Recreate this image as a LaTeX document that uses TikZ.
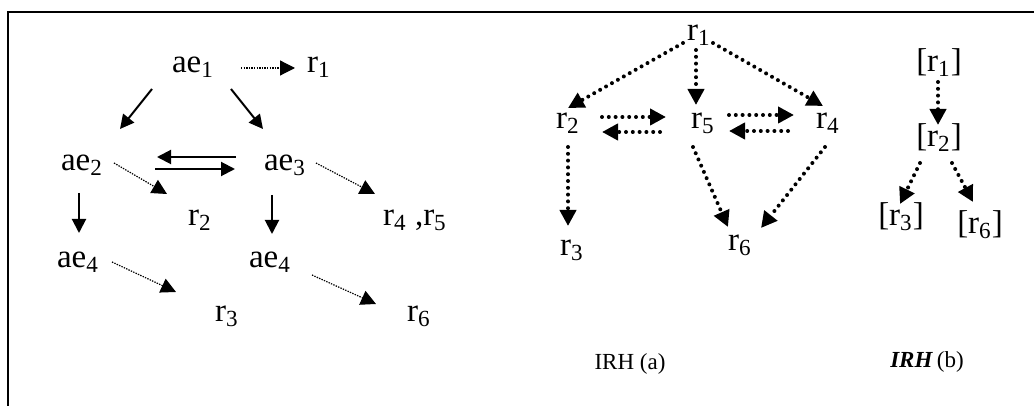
\documentclass[tikz,border=0pt]{standalone}
\usepackage{fontspec}
\setmainfont{Liberation Serif}
\usetikzlibrary{arrows.meta}

\begin{document}
\begin{tikzpicture}[x=0.5pt,y=-0.5pt,
    lbl/.style={inner sep=0pt,outer sep=0pt,text height=1ex,text depth=0pt,
      font=\fontsize{16.5}{19}\selectfont},
    capbox/.style={inner sep=0pt,anchor=base,font=\fontsize{11.5}{14}\selectfont},
    sarr/.style={line width=1pt,-{Triangle[length=7pt,width=7pt]}},
    tarr/.style={line width=0.6pt,dash pattern=on 0.7pt off 0.6pt,
      -{Triangle[length=7.5pt,width=7.5pt]}},
    darr/.style={line width=2pt,line cap=round,dash pattern=on 0pt off 3.4pt,
      -{Triangle[length=8pt,width=8pt]}}]
  \useasboundingbox (0,0) rectangle (1034,406);
  \draw[line width=1pt] (8,406) -- (8,12) -- (1034,12);
  % the elements and their rules
  \begin{scope}
    \node[lbl] (ae1)  at (193,68)  {ae\textsubscript{1}};
    \node[lbl] (lr1)  at (319,68)  {r\textsubscript{1}};
    \node[lbl] (ae2)  at (82,166)  {ae\textsubscript{2}};
    \node[lbl] (ae3)  at (285,166) {ae\textsubscript{3}};
    \node[lbl] (lr2)  at (200,221) {r\textsubscript{2}};
    \node[lbl] (lr45) at (415,221) {r\textsubscript{4} ,r\textsubscript{5}};
    \node[lbl] (ae4a) at (78,263)  {ae\textsubscript{4}};
    \node[lbl] (ae4b) at (270,263) {ae\textsubscript{4}};
    \node[lbl] (lr3)  at (227,317) {r\textsubscript{3}};
    \node[lbl] (lr6)  at (419,317) {r\textsubscript{6}};
    \draw[sarr] ([shift={(-41,21)}]ae1.center) -- ([shift={(38,-37)}]ae2.center);
    \draw[sarr] ([shift={(38,21)}]ae1.center) -- ([shift={(-22,-37)}]ae3.center);
    \draw[sarr] ([shift={(-49,-9)}]ae3.center) -- ([shift={(75,-9)}]ae2.center);
    \draw[sarr] ([shift={(73,3)}]ae2.center) -- ([shift={(-50,3)}]ae3.center);
    \draw[sarr] ([shift={(-3,27)}]ae2.center) -- ([shift={(1,-30)}]ae4a.center);
    \draw[sarr] ([shift={(-13,29)}]ae3.center) -- ([shift={(2,-29)}]ae4b.center);
    \draw[tarr] ([shift={(48,0)}]ae1.center) -- ([shift={(-24,0)}]lr1.center);
    \draw[tarr] ([shift={(32,-3)}]ae2.center) -- ([shift={(-33,-27)}]lr2.center);
    \draw[tarr] ([shift={(31,-3)}]ae3.center) -- ([shift={(-40,-27)}]lr45.center);
    \draw[tarr] ([shift={(34,-1)}]ae4a.center) -- ([shift={(-51,-25)}]lr3.center);
    \draw[tarr] ([shift={(42,12)}]ae4b.center) -- ([shift={(-43,-13)}]lr6.center);
  \end{scope}
  % IRH (a)
  \begin{scope}
    \node[lbl] (r1) at (699,36)  {r\textsubscript{1}};
    \node[lbl] (r2) at (568,124) {r\textsubscript{2}};
    \node[lbl] (r5) at (703,124) {r\textsubscript{5}};
    \node[lbl] (r4) at (828,124) {r\textsubscript{4}};
    \node[lbl] (r3) at (572,251) {r\textsubscript{3}};
    \node[lbl] (r6) at (740,246) {r\textsubscript{6}};
    \draw[darr] ([shift={(-16,7)}]r1.center) -- ([shift={(0,-16)}]r2.center);
    \draw[darr] ([shift={(-3,14)}]r1.center) -- ([shift={(-7,-19)}]r5.center);
    \draw[darr] ([shift={(14,7)}]r1.center) -- ([shift={(-5,-18)}]r4.center);
    \draw[darr] ([shift={(34,-7)}]r2.center) -- ([shift={(-37,-7)}]r5.center);
    \draw[darr] ([shift={(-43,8)}]r5.center) -- ([shift={(34,8)}]r2.center);
    \draw[darr] ([shift={(26,-9)}]r5.center) -- ([shift={(-34,-9)}]r4.center);
    \draw[darr] ([shift={(-40,7)}]r4.center) -- ([shift={(26,7)}]r5.center);
    \draw[darr] ([shift={(0,23)}]r2.center) -- ([shift={(-4,-25)}]r3.center);
    \draw[darr] ([shift={(-10,23)}]r5.center) -- ([shift={(-12,-19)}]r6.center);
    \draw[darr] ([shift={(-3,23)}]r4.center) -- ([shift={(21,-18)}]r6.center);
    \node[capbox] (capa) at (630,370) {IRH (a)};
  \end{scope}
  % IRH (b)
  \begin{scope}
    \node[lbl] (b1) at (939,67)  {[r\textsubscript{1}]};
    \node[lbl] (b2) at (939,142) {[r\textsubscript{2}]};
    \node[lbl] (b3) at (901,221) {[r\textsubscript{3}]};
    \node[lbl] (b6) at (980,229) {[r\textsubscript{6}]};
    \draw[darr] ([shift={(-1,15)}]b1.center) -- ([shift={(-1,-17)}]b2.center);
    \draw[darr] ([shift={(-19,21)}]b2.center) -- ([shift={(-1,-17)}]b3.center);
    \draw[darr] ([shift={(13,21)}]b2.center) -- ([shift={(-7,-27)}]b6.center);
    \node[capbox] (capb) at (927,368) {\textbf{\textit{IRH}}\,(b)};
  \end{scope}
\end{tikzpicture}
\end{document}
